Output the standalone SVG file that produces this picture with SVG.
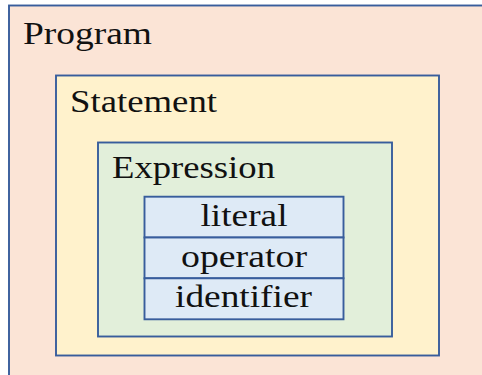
<svg xmlns="http://www.w3.org/2000/svg" width="482" height="375" viewBox="0 0 482 375">
<style>
.box{stroke:#385D9C;stroke-width:1.9}
.lbl{font-family:"Liberation Serif","DejaVu Serif",serif;font-size:31px;fill:#111}
.mid{text-anchor:middle}
</style>
<rect x="0" y="0" width="482" height="375" fill="#ffffff"/>
<g id="program">
<rect class="box" x="9" y="5.5" width="490" height="390" fill="#FBE4D6"/>
<text class="lbl" x="23" y="44.3" textLength="129" lengthAdjust="spacingAndGlyphs">Program</text>
</g>
<g id="statement">
<rect class="box" x="56" y="75.5" width="383" height="280" fill="#FFF2CC"/>
<text class="lbl" x="70" y="111.7" textLength="147" lengthAdjust="spacingAndGlyphs">Statement</text>
</g>
<g id="expression">
<rect class="box" x="98" y="142.5" width="294" height="194" fill="#E2EFDA"/>
<text class="lbl" x="112" y="178" textLength="163" lengthAdjust="spacingAndGlyphs">Expression</text>
</g>
<g id="literal">
<rect class="box" x="144.5" y="196.7" width="199" height="40.8" fill="#DEEAF6"/>
<text class="lbl mid" x="244" y="226.3" textLength="87" lengthAdjust="spacingAndGlyphs">literal</text>
</g>
<g id="operator">
<rect class="box" x="144.5" y="237.5" width="199" height="40.8" fill="#DEEAF6"/>
<text class="lbl mid" x="244" y="267" textLength="126" lengthAdjust="spacingAndGlyphs">operator</text>
</g>
<g id="identifier">
<rect class="box" x="144.5" y="278.3" width="199" height="41" fill="#DEEAF6"/>
<text class="lbl mid" x="243.5" y="307" textLength="137" lengthAdjust="spacingAndGlyphs">identifier</text>
</g>
</svg>
